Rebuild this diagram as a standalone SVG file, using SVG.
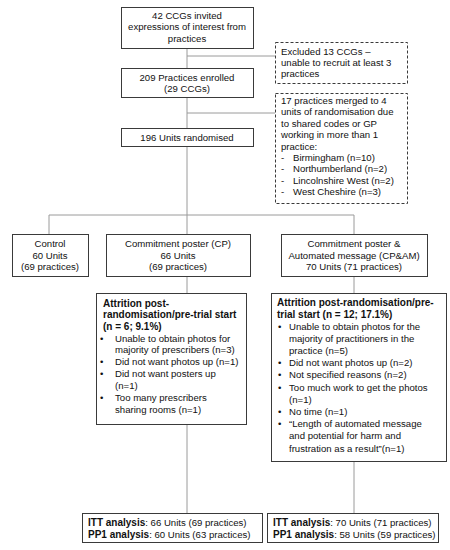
<svg xmlns="http://www.w3.org/2000/svg" width="450" height="550" viewBox="0 0 450 550">
<style>
  text { font-family: "Liberation Sans", Arial, sans-serif; font-size: 9.6px; fill: #111; }
  .c { text-anchor: middle; }
  .b { font-weight: bold; font-size: 10px; }
  .box { fill: #fff; stroke: #3a3a3a; stroke-width: 1; }
  .dbox { fill: #fff; stroke: #3a3a3a; stroke-width: 1; stroke-dasharray: 3 2; }
  .ln { stroke: #9a9a9a; stroke-width: 1; fill: none; }
</style>
<rect width="450" height="550" fill="#fff"/>
<g id="connectors">
  <path class="ln" d="M187 48V234 M187 56H275 M187 113H275 M49 215H354 M49 215V234 M354 215V234 M187 276V293 M354 276V293 M187 424V513 M354 461V513"/>
</g>
<g id="invited">
  <rect class="box" x="121.5" y="7.5" width="132" height="41"/>
  <text class="c" x="187" y="18.5">42 CCGs invited</text>
  <text class="c" x="187" y="30">expressions of interest from</text>
  <text class="c" x="187" y="41.5">practices</text>
</g>
<g id="excluded">
  <rect class="dbox" x="275.5" y="42.5" width="132" height="41"/>
  <text x="281" y="54.5">Excluded 13 CCGs –</text>
  <text x="281" y="65.5">unable to recruit at least 3</text>
  <text x="281" y="76.5">practices</text>
</g>
<g id="enrolled">
  <rect class="box" x="121.5" y="68.5" width="132" height="29"/>
  <text class="c" x="187" y="80.5">209 Practices enrolled</text>
  <text class="c" x="187" y="92">(29 CCGs)</text>
</g>
<g id="merged">
  <rect class="dbox" x="275.5" y="93.5" width="132" height="110"/>
  <text x="281" y="104">17 practices merged to 4</text>
  <text x="281" y="115.4">units of randomisation due</text>
  <text x="281" y="126.8">to shared codes or GP</text>
  <text x="281" y="138.2">working in more than 1</text>
  <text x="281" y="149.6">practice:</text>
  <text x="281" y="161">-</text><text x="293" y="161">Birmingham (n=10)</text>
  <text x="281" y="172.4">-</text><text x="293" y="172.4">Northumberland (n=2)</text>
  <text x="281" y="183.8">-</text><text x="293" y="183.8">Lincolnshire West (n=2)</text>
  <text x="281" y="195.2">-</text><text x="293" y="195.2">West Cheshire (n=3)</text>
</g>
<g id="randomised">
  <rect class="box" x="121.5" y="128.5" width="132" height="18"/>
  <text class="c" x="187" y="141">196 Units randomised</text>
</g>
<g id="control">
  <rect class="box" x="12.5" y="234.5" width="76" height="42"/>
  <text class="c" x="50" y="247">Control</text>
  <text class="c" x="50" y="258.5">60 Units</text>
  <text class="c" x="50" y="270">(69 practices)</text>
</g>
<g id="cp">
  <rect class="box" x="106.5" y="234.5" width="144" height="42"/>
  <text class="c" x="178" y="247">Commitment poster (CP)</text>
  <text class="c" x="178" y="258.5">66 Units</text>
  <text class="c" x="178" y="270">(69 practices)</text>
</g>
<g id="cpam">
  <rect class="box" x="281.5" y="234.5" width="146" height="42"/>
  <text class="c" x="354" y="247">Commitment poster &amp;</text>
  <text class="c" x="354" y="258.5">Automated message (CP&amp;AM)</text>
  <text class="c" x="354" y="270">70 Units (71 practices)</text>
</g>
<g id="attrition-cp">
  <rect class="box" x="96.5" y="293.5" width="150" height="131"/>
  <text class="b" x="103" y="306.5">Attrition post-</text>
  <text class="b" x="103" y="318">randomisation/pre-trial start</text>
  <text class="b" x="103" y="329.5">(n = 6; 9.1%)</text>
  <text x="100" y="341.5">•</text><text x="115" y="341.5">Unable to obtain photos for</text>
  <text x="115" y="353.3">majority of prescribers (n=3)</text>
  <text x="100" y="365.1">•</text><text x="115" y="365.1">Did not want photos up (n=1)</text>
  <text x="100" y="377">•</text><text x="115" y="377">Did not want posters up</text>
  <text x="115" y="389">(n=1)</text>
  <text x="100" y="401">•</text><text x="115" y="401">Too many prescribers</text>
  <text x="115" y="413">sharing rooms (n=1)</text>
</g>
<g id="attrition-cpam">
  <rect class="box" x="271.5" y="293.5" width="175" height="168"/>
  <text class="b" x="277" y="306">Attrition post-randomisation/pre-</text>
  <text class="b" x="277" y="317.5">trial start (n = 12; 17.1%)</text>
  <text x="278" y="329.5">•</text><text x="289" y="329.5">Unable to obtain photos for the</text>
  <text x="289" y="341.7">majority of practitioners in the</text>
  <text x="289" y="353.9">practice (n=5)</text>
  <text x="278" y="366.1">•</text><text x="289" y="366.1">Did not want photos up (n=2)</text>
  <text x="278" y="378.3">•</text><text x="289" y="378.3">Not specified reasons (n=2)</text>
  <text x="278" y="390.5">•</text><text x="289" y="390.5">Too much work to get the photos</text>
  <text x="289" y="402.7">(n=1)</text>
  <text x="278" y="414.9">•</text><text x="289" y="414.9">No time (n=1)</text>
  <text x="278" y="427.1">•</text><text x="289" y="427.1">“Length of automated message</text>
  <text x="289" y="439.3">and potential for harm and</text>
  <text x="289" y="451.5">frustration as a result”(n=1)</text>
</g>
<g id="analysis-cp">
  <rect class="box" x="82.5" y="513.5" width="180" height="29"/>
  <text x="88" y="525.5"><tspan class="b">ITT analysis</tspan>: 66 Units (69 practices)</text>
  <text x="88" y="537.5"><tspan class="b">PP1 analysis</tspan>: 60 Units (63 practices)</text>
</g>
<g id="analysis-cpam">
  <rect class="box" x="267.5" y="513.5" width="171" height="29"/>
  <text x="273" y="525.5"><tspan class="b">ITT analysis</tspan>: 70 Units (71 practices)</text>
  <text x="273" y="537.5"><tspan class="b">PP1 analysis</tspan>: 58 Units (59 practices)</text>
</g>
</svg>
